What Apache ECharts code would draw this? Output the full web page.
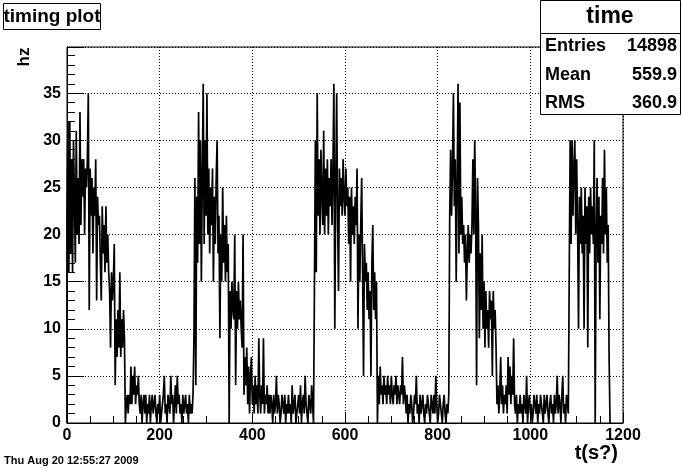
<!DOCTYPE html>
<html><head><meta charset="utf-8">
<script src="https://cdn.jsdelivr.net/npm/echarts@6/dist/echarts.min.js"></script>
<style>html,body{margin:0;padding:0;background:#fff;}#c{width:682px;height:471px;}</style>
</head><body><div id="c"></div>
<script>
// ---- data (histogram "time", 2 s bins starting at t = 0) ----
const binWidth = 2;
const rates = [
 22,32,16,32,18,28,16,30,24,17,31,20,
 26,19,33,21,28,
 24,28,20,27,25,28, 35,12,
 27,22,26,18,25,22,28,13,24,21,
 22,17,13,23,18,21,16,23,17,20,16,
 14,8,16,13,15, 19,
 4,11,7,12,8,16,7,11,8,12,9, 0,
 2,3,1,3,2,6,
 2,5,3,6,2,4,3,5,2,
 1,3,0,2,3,1,3,0,2,1,
 3,0,2,3,1,2,3,1,0,2,
 1,3,0,1,2,3,5,1,2,0,
 3,2,1,5,2,3,0,2,4,1,
 5,2,3,1,2,0,3,1,2,3,
 1,2,0,3,1,2,1,3,
 9,
 26,4,24,17,33,19,
 30,15,26,36,19,30,22,35,20,
 27,18,25,21,27,15,24,19,26,30,18,
 22,9,20,15,25,17,21,15,22,16,19,
 0,
 14,10,15,12,11,20,4,14,10,15,11,13,10,
 8,20,3,7,4,8,
 2,6,1,5,7,2,4,1,5,
 2,4,1,9,3,1,4,2,9,1,3,2,4,1,3,
 1,3,2,0,3,1,2,5,1,3,
 2,0,1,3,2,1,3,0,2,1,
 3,1,2,0,4,1,2,3,0,1,
 2,3,1,4,0,2,3,1,5,2,
 1,0,3,2,1,4,2,0,
 14,
 30,16,35,22,28,
 20,29,24,21,31,20,27,
 22,28,20,26,23,28,21,27,36,10,25,
 35,22,14,27,23,26,22,28,24,22,27,23,25,
 19,24,15,25,20,23,19,24,21,27,
 10,20,15,21,26,16,5,19,15,
 17,12,16,11,14,5,17,21,12,16,11,15,
 0,
 5,2,6,3,4,2,5,3,4,
 2,5,3,4,2,5,3,2,4,3,5,2,4,3,2,4,3,7,2,4,3,
 1,3,0,2,1,3,2,0,1,3,
 2,5,1,2,0,3,1,2,3,1,
 0,2,1,3,2,1,0,3,2,1,
 3,1,5,2,0,1,3,2,1,0,
 2,3,1,0,2,1,3,
 22,
 29,22,27,35,23,28,
 15,25,36,18,34,20,24,
 19,21,17,20,13,18,21,17,20,18,21,
 28,20,30,22,4,26,
 21,9,18,12,20,10,15,
 8,14,10,12,8,14,11,13,5,14,10,12,8,
 2,4,1,3,7,2,4,1,3,2,4,1,7,
 3,6,2,5,3,9,2,
 1,3,0,2,1,3,1,2,0,3,
 2,1,5,0,2,3,1,2,0,1,
 3,2,1,3,0,2,1,3,2,1,
 0,3,1,2,3,1,0,2,3,1,
 2,0,3,1,2,5,1,3,2,0,
 3,5,1,2,0,3,2,1,
 16,
 30,19,30,22,27,30,20,28,21,
 10,24,19,25,18,22,10,25,19,23,8,24,18,25,20,23,19,
 30,0,
 20,26,17,24,11,22,19,26,18,29,20,25,17,21,7
];
const xRange = [0, 1200];
const xStep = 200;
const yRange = [0, 39.9];
const yStep = 5;
const histTitle = 'timing plot';
const statsName = 'time';
const statsLabels = ['Entries', 'Mean', 'RMS'];
const statsValues = ['14898', '559.9', '360.9'];
const xTitle = 't(s?)';
const yTitle = 'hz';
const dateText = 'Thu Aug 20 12:55:27 2009';

// ---- build ----
const pts = [[0, 0]];
rates.forEach((v, i) => pts.push([i * binWidth, v]));
pts.push([rates.length * binWidth, 0]);

const FONT = '"Liberation Sans", Arial, Helvetica, sans-serif';
const chart = echarts.init(document.getElementById('c'), null, {renderer: 'canvas'});
const dotted = {color: '#000', width: 1, type: [1, 2]};
const statsRowY = [46, 75, 103];
const graphic = [
  {type: 'rect', shape: {x: 3.5, y: 3.5, width: 97, height: 26}, style: {fill: '#fff', stroke: '#000', lineWidth: 1}, z: 10},
  {type: 'text', x: 52, y: 17, style: {text: histTitle, font: 'bold 19px ' + FONT, fill: '#000', textAlign: 'center', textVerticalAlign: 'middle'}, z: 11},
  {type: 'rect', shape: {x: 540.5, y: 0.5, width: 140, height: 114}, style: {fill: '#fff', stroke: '#000', lineWidth: 1}, z: 10},
  {type: 'line', shape: {x1: 540.5, y1: 33.5, x2: 680.5, y2: 33.5}, style: {stroke: '#000', lineWidth: 1}, z: 11},
  {type: 'text', x: 610, y: 17, style: {text: statsName, font: 'bold 23px ' + FONT, fill: '#000', textAlign: 'center', textVerticalAlign: 'middle'}, z: 11},
  {type: 'text', x: 24, y: 57, rotation: Math.PI / 2, style: {text: yTitle, font: 'bold 17px ' + FONT, fill: '#000', textAlign: 'center', textVerticalAlign: 'middle'}, z: 11},
  {type: 'text', x: 618, y: 453, style: {text: xTitle, font: 'bold 20px ' + FONT, fill: '#000', textAlign: 'right', textVerticalAlign: 'middle'}, z: 11},
  {type: 'text', x: 4, y: 461, style: {text: dateText, font: 'bold 11px ' + FONT, fill: '#000', textAlign: 'left', textVerticalAlign: 'middle'}, z: 11}
];
statsLabels.forEach((l, i) => {
  graphic.push({type: 'text', x: 545, y: statsRowY[i], style: {text: l, font: 'bold 18px ' + FONT, fill: '#000', textAlign: 'left', textVerticalAlign: 'middle'}, z: 11});
  graphic.push({type: 'text', x: 677, y: statsRowY[i], style: {text: statsValues[i], font: 'bold 18px ' + FONT, fill: '#000', textAlign: 'right', textVerticalAlign: 'middle'}, z: 11});
});

chart.setOption({
  animation: false,
  backgroundColor: '#fff',
  grid: {left: 67, right: 59, top: 47, bottom: 48, show: true, borderColor: '#000', borderWidth: 1, backgroundColor: '#fff'},
  xAxis: {
    type: 'value', min: xRange[0], max: xRange[1], interval: xStep,
    axisLine: {show: true, onZero: false, lineStyle: {color: '#000', width: 1}},
    axisTick: {show: true, inside: true, length: 11, lineStyle: {color: '#000'}},
    minorTick: {show: true, splitNumber: 4, length: 7, lineStyle: {color: '#000'}},
    splitLine: {show: true, lineStyle: dotted},
    axisLabel: {color: '#000', fontFamily: FONT, fontWeight: 'bold', fontSize: 16, margin: 5, formatter: v => String(v)}
  },
  yAxis: {
    type: 'value', min: yRange[0], max: yRange[1], interval: yStep,
    axisLine: {show: true, onZero: false, lineStyle: {color: '#000', width: 1}},
    axisTick: {show: true, inside: true, length: 17, lineStyle: {color: '#000'}},
    minorTick: {show: true, splitNumber: 5, length: 8, lineStyle: {color: '#000'}},
    splitLine: {show: true, lineStyle: dotted},
    axisLabel: {color: '#000', fontFamily: FONT, fontWeight: 'bold', fontSize: 16, margin: 6, showMaxLabel: false,
      formatter: v => (Math.abs(v % yStep) < 1e-9 ? String(v) : '')}
  },
  series: [{
    type: 'line', data: pts, step: 'end', symbol: 'none', showSymbol: false,
    lineStyle: {color: '#000', width: 1.7}, clip: true, silent: true
  }],
  graphic: graphic
});
</script></body></html>
